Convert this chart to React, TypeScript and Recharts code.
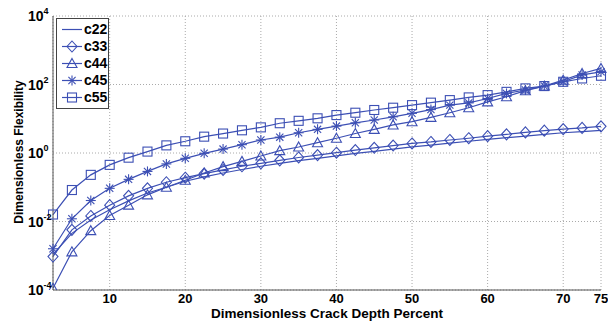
import React from 'react'
import { LineChart, Line, XAxis, YAxis, CartesianGrid } from 'recharts'

const crackDepth = [2.5, 5, 7.5, 10, 12.5, 15, 17.5, 20, 22.5, 25, 27.5, 30, 32.5, 35, 37.5, 40, 42.5, 45, 47.5, 50, 52.5, 55, 57.5, 60, 62.5, 65, 67.5, 70, 72.5, 75]

const c22 = [0.0011, 0.0045, 0.011, 0.022, 0.04, 0.068, 0.1, 0.15, 0.2, 0.26, 0.33, 0.41, 0.5, 0.6, 0.7, 0.82, 0.97, 1.12, 1.3, 1.5, 1.7, 1.95, 2.2, 2.5, 2.8, 3.1, 3.5, 3.9, 4.2, 4.6]
const c33 = [0.00095, 0.0057, 0.0145, 0.03, 0.056, 0.093, 0.14, 0.19, 0.25, 0.32, 0.41, 0.5, 0.61, 0.74, 0.87, 1.02, 1.22, 1.42, 1.65, 1.9, 2.1, 2.4, 2.7, 3.1, 3.5, 4.0, 4.5, 5.0, 5.4, 6.0]
const c44 = [0.000112, 0.0013, 0.0054, 0.015, 0.03, 0.06, 0.1, 0.16, 0.26, 0.4, 0.57, 0.82, 1.17, 1.5, 2.0, 2.7, 3.7, 4.9, 6.6, 8.2, 11, 15, 21, 31, 44, 66, 90, 134, 210, 295]
const c45 = [0.0016, 0.012, 0.041, 0.093, 0.17, 0.29, 0.48, 0.7, 0.98, 1.3, 1.75, 2.4, 2.9, 3.9, 4.9, 6.1, 7.6, 9.2, 11.4, 14.4, 18.5, 25, 29, 39, 55, 69, 90, 120, 190, 235]
const c55 = [0.016, 0.083, 0.23, 0.45, 0.73, 1.1, 1.67, 2.2, 3.0, 3.7, 4.6, 5.6, 7.4, 8.7, 10.3, 12.8, 15, 18, 21, 25, 29.5, 35, 42, 49, 61, 77, 90, 120, 150, 180]

const xTicks = [10, 20, 30, 40, 50, 60, 70, 75]
const yTicks = [1e-4, 1e-2, 1, 1e2, 1e4]
const yExponents = ['-4', '-2', '0', '2', '4']

const seriesNames = ['c22', 'c33', 'c44', 'c45', 'c55']
const seriesValues = [c22, c33, c44, c45, c55]
const markers = ['none', 'diamond', 'triangle', 'star', 'square']

const BLUE = '#3c4fb4'
const FONT = '"Liberation Sans", Arial, sans-serif'

const data = crackDepth.map((x, i) => {
  const row: any = { x }
  seriesNames.forEach((n, k) => (row[n] = seriesValues[k][i]))
  return row
})

function marker(kind: string, cx: number, cy: number, key?: any) {
  const r = 5
  const common = { stroke: BLUE, strokeWidth: 1.1, fill: 'none' }
  if (kind === 'diamond')
    return <polygon key={key} points={`${cx},${cy - r - 0.5} ${cx + r},${cy} ${cx},${cy + r + 0.5} ${cx - r},${cy}`} {...common} />
  if (kind === 'triangle')
    return <polygon key={key} points={`${cx},${cy - r} ${cx + r},${cy + r - 1} ${cx - r},${cy + r - 1}`} {...common} />
  if (kind === 'square')
    return <rect key={key} x={cx - r + 0.5} y={cy - r + 0.5} width={2 * r - 1} height={2 * r - 1} {...common} />
  if (kind === 'star') {
    const d = r * 0.72
    return (
      <g key={key} {...common}>
        <line x1={cx} y1={cy - r} x2={cx} y2={cy + r} />
        <line x1={cx - r} y1={cy} x2={cx + r} y2={cy} />
        <line x1={cx - d} y1={cy - d} x2={cx + d} y2={cy + d} />
        <line x1={cx - d} y1={cy + d} x2={cx + d} y2={cy - d} />
      </g>
    )
  }
  return <g key={key} />
}

const YTick = (props: any) => {
  const { y, payload } = props
  const i = yTicks.indexOf(payload.value)
  return (
    <text x={28} y={y + 5} fontFamily={FONT} fontWeight="bold" fontSize={14} fill="#000">
      10
      <tspan dy={-7} fontSize={9}>{yExponents[i]}</tspan>
    </text>
  )
}

const XTick = (props: any) => {
  const { x, y, payload } = props
  return (
    <text x={x} y={y + 5} textAnchor="middle" fontFamily={FONT} fontWeight="bold" fontSize={13} fill="#000">
      {payload.value}
    </text>
  )
}

const LegendBox = () => (
  <div
    style={{
      position: 'absolute',
      left: 56,
      top: 18,
      border: '1px solid #444',
      background: '#fff',
      width: 51,
      padding: '2px 0 2px 0',
    }}
  >
    {seriesNames.map((n, k) => (
      <div key={n} style={{ display: 'flex', alignItems: 'center', height: 17 }}>
        <svg width={27} height={17} style={{ display: 'block' }}>
          <line x1={5} y1={8.5} x2={25} y2={8.5} stroke={BLUE} strokeWidth={1.2} />
          {marker(markers[k], 15, 8.5)}
        </svg>
        <span style={{ fontFamily: FONT, fontWeight: 'bold', fontSize: 14, color: '#000', lineHeight: '17px' }}>{n}</span>
      </div>
    ))}
  </div>
)

export default function App() {
  return (
    <div style={{ position: 'absolute', left: 0, top: 0, width: 608, height: 324, background: '#fff' }}>
      <LineChart width={608} height={324} data={data} margin={{ top: 16, right: 7, bottom: 4, left: 8 }}>
        <CartesianGrid stroke="#aaa" strokeDasharray="1 2" vertical horizontal />
        <XAxis
          dataKey="x"
          type="number"
          domain={[2.5, 75]}
          ticks={xTicks}
          tick={<XTick />}
          tickLine={false}
          axisLine={{ stroke: '#555' }}
          height={30}
          interval={0}
        />
        <XAxis xAxisId="top" orientation="top" dataKey="x" type="number" domain={[2.5, 75]} tick={false} tickLine={false} axisLine={{ stroke: '#555' }} height={0} />
        <YAxis
          scale="log"
          domain={[1e-4, 1e4]}
          ticks={yTicks}
          allowDataOverflow
          tick={<YTick />}
          tickLine={false}
          axisLine={{ stroke: '#555' }}
          width={45}
          interval={0}
        />
        <YAxis yAxisId="right" orientation="right" scale="log" domain={[1e-4, 1e4]} tick={false} tickLine={false} axisLine={{ stroke: '#555' }} width={0} />
        {seriesNames.map((n, k) => (
          <Line
            key={n}
            dataKey={n}
            stroke={BLUE}
            strokeWidth={1.2}
            isAnimationActive={false}
            dot={markers[k] === 'none' ? false : (p: any) => marker(markers[k], p.cx, p.cy, `${n}-${p.index}`)}
            activeDot={false}
          />
        ))}
      </LineChart>
      <LegendBox />
      <div
        style={{
          position: 'absolute',
          left: 0,
          right: 0,
          top: 306,
          textAlign: 'center',
          paddingLeft: 46,
          fontFamily: FONT,
          fontWeight: 'bold',
          fontSize: 13.5,
          lineHeight: '16px',
        }}
      >
        Dimensionless Crack Depth Percent
      </div>
      <div
        style={{
          position: 'absolute',
          left: 19,
          top: 152,
          transform: 'translate(-50%, -50%) rotate(-90deg)',
          whiteSpace: 'nowrap',
          fontFamily: FONT,
          fontWeight: 'bold',
          fontSize: 12,
        }}
      >
        Dimensionless Flexibility
      </div>
    </div>
  )
}
